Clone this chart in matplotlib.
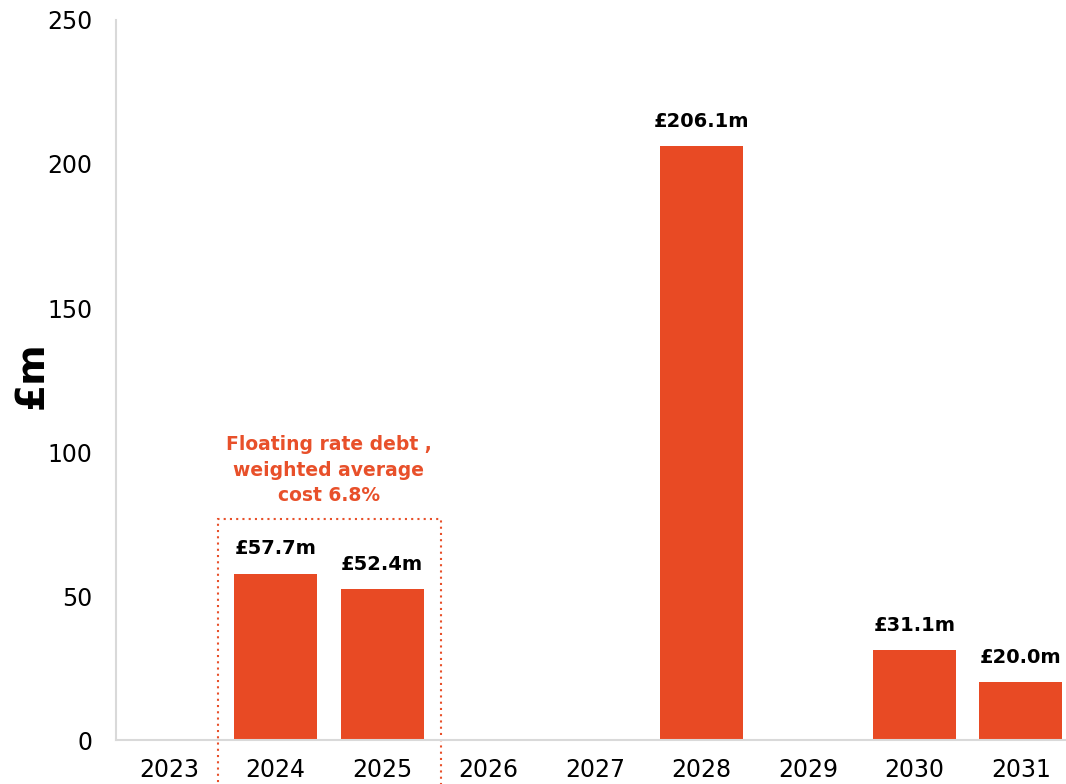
import matplotlib.pyplot as plt
from matplotlib.patches import Rectangle

plt.rcParams['font.family'] = ['DejaVu Sans']

# Debt maturity profile (£m)
years = ['2023', '2024', '2025', '2026', '2027', '2028', '2029', '2030', '2031']
amounts = [0, 57.7, 52.4, 0, 0, 206.1, 0, 31.1, 20.0]
y_ticks = [0, 50, 100, 150, 200, 250]
note = 'Floating rate debt ,\nweighted average\ncost 6.8%'

bar_color = '#E84A24'
note_color = '#E8502A'
axis_grey = '#D9D9D9'

fig = plt.figure(figsize=(10.66, 7.84), dpi=100)
ax = fig.add_axes([0.1088, 0.0561, 0.8987, 0.9184])

x = range(len(years))
ax.bar(x, amounts, width=0.78, color=bar_color)

# value labels above the non-zero bars
for xi, val in zip(x, amounts):
    if val > 0:
        ax.annotate(f'£{val:.1f}m', (xi, val), xytext=(0, 14),
                    textcoords='offset points', ha='center', va='baseline',
                    fontsize=14, fontweight='bold', color='black')

ax.set_xlim(-0.5, len(years) - 0.5)
ax.set_ylim(0, 250)
ax.set_xticks(list(x))
ax.set_xticklabels(years, fontsize=17)
ax.set_yticks(y_ticks)
ax.set_yticklabels([str(t) for t in y_ticks], fontsize=17)
ax.tick_params(axis='both', length=0)
ax.tick_params(axis='y', pad=17)
ax.tick_params(axis='x', pad=13)

for side in ['top', 'right']:
    ax.spines[side].set_visible(False)
for side in ['left', 'bottom']:
    ax.spines[side].set_color(axis_grey)
    ax.spines[side].set_linewidth(1.5)

ax.text(-0.088, 0.507, '£m', transform=ax.transAxes, rotation=90,
        ha='center', va='center', fontsize=28, fontweight='bold')

# dotted box around the floating rate years
box = Rectangle((0.46, -30), 2.09, 76.7 + 30, fill=False, edgecolor=note_color,
                linestyle=(0, (1, 2)), linewidth=1.5, clip_on=False)
ax.add_patch(box)
ax.text(1.5, 81.5, note, ha='center', va='bottom', fontsize=13.5,
        fontweight='bold', color=note_color, linespacing=1.45)

plt.savefig('out.png', dpi=100)
